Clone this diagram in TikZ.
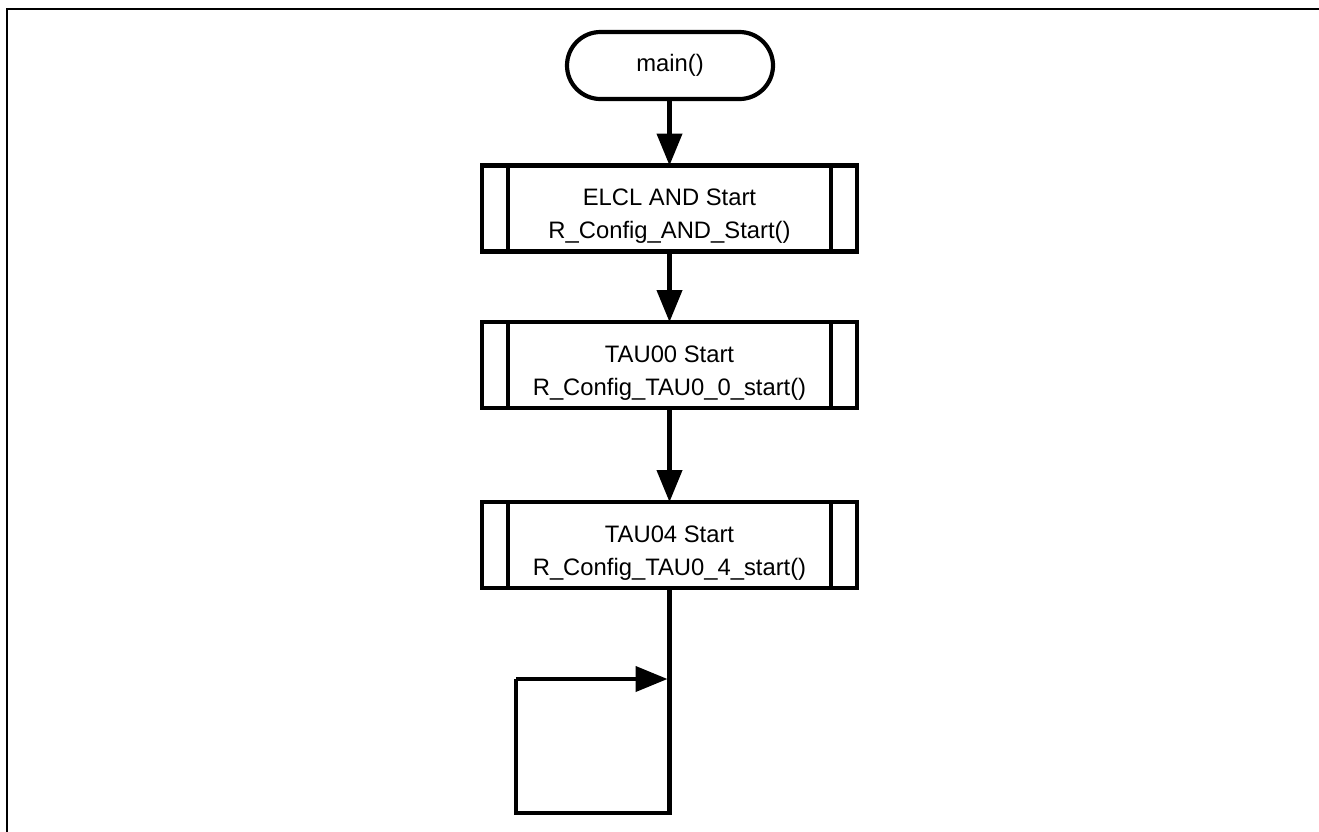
\documentclass[tikz,border=0pt]{standalone}
\usepackage{fontspec}
\setmainfont{Liberation Sans}
\usetikzlibrary{arrows.meta}
\begin{document}
\begin{tikzpicture}[x=1pt,y=-1pt,
  every node/.style={font=\fontsize{23.8}{33}\selectfont, align=center, outer sep=0pt, inner sep=0pt},
  proc/.style={draw, line width=4.2pt, minimum width=375pt, minimum height=86pt, fill=white},
  term/.style={draw, line width=4.2pt, minimum width=206pt, minimum height=67pt, rounded corners=33.5pt},
  flow/.style={line width=4.2pt, -{Triangle[length=32pt,width=25pt]}},
  plain/.style={line width=4.2pt},
  frame/.style={line width=2.5pt}]
\useasboundingbox (0,0) rectangle (1319,831);
\draw[frame] (7,832) -- (7,9) -- (1320,9);
\node[term] (m) at (670,65.5) {main()};
\node[proc] (b1) at (669.5,208.5) {};
\node[proc] (b2) at (669.5,365) {};
\node[proc] (b3) at (669.5,545) {};
\node (t1) at ([yshift=-8pt]b1.center) {ELCL AND Start\\R\_Config\_AND\_Start()};
\node (t2) at ([yshift=-8pt]b2.center) {TAU00 Start\\R\_Config\_TAU0\_0\_start()};
\node (t3) at ([yshift=-8pt]b3.center) {TAU04 Start\\R\_Config\_TAU0\_4\_start()};
\foreach \b in {b1,b2,b3}{
  \draw[line width=4.2pt] ([xshift=26pt]\b.north west) -- ([xshift=26pt]\b.south west);
  \draw[line width=4.2pt] ([xshift=-26pt]\b.north east) -- ([xshift=-26pt]\b.south east);
}
\draw[flow] (m.south -| b1.north) -- (b1.north);
\draw[flow] (b1.south) -- (b2.north);
\draw[flow] (b2.south) -- (b3.north);
\coordinate (l1) at (669.5,813);
\coordinate (l2) at (516,813);
\coordinate (l3) at (516,679);
\coordinate (l4) at (667.5,679);
\draw[plain, line join=miter] (b3.south) -- (l1) -- (l2) -- (l3) -- (l4 -| l3);
\draw[flow] (l3) -- (l4);
\end{tikzpicture}
\end{document}
